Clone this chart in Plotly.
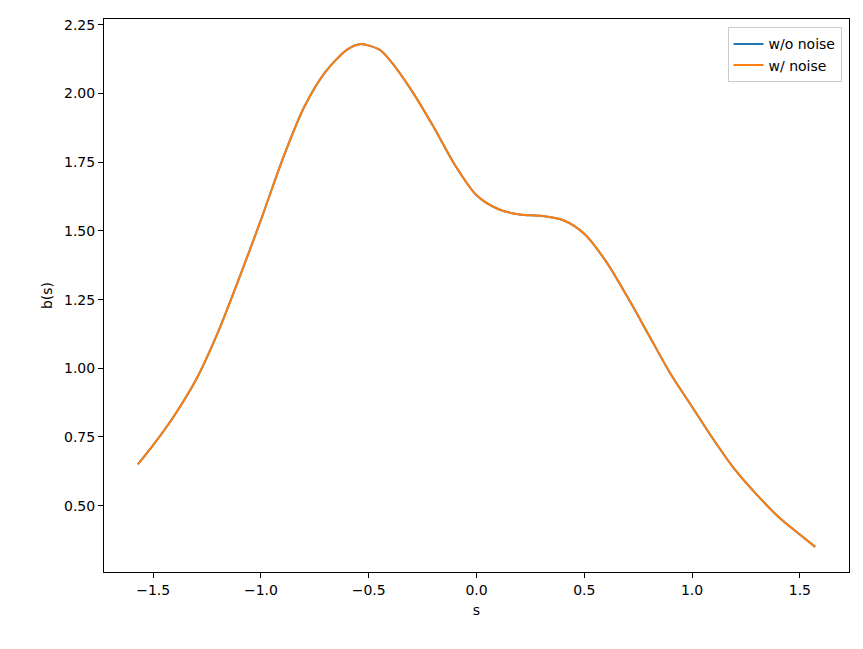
import plotly.graph_objects as go

s = [-1.571, -1.5, -1.4, -1.3, -1.2, -1.1, -1.0, -0.9, -0.8, -0.7, -0.6, -0.54, -0.45, -0.4,
     -0.3, -0.2, -0.1, 0.0, 0.1, 0.2, 0.3, 0.4, 0.5, 0.6, 0.7, 0.8, 0.9, 1.0, 1.1, 1.2,
     1.3, 1.4, 1.5, 1.571]
b_clean = [0.65, 0.72, 0.83, 0.96, 1.13, 1.33, 1.54, 1.76, 1.95, 2.08, 2.16, 2.18, 2.16, 2.12,
           2.01, 1.88, 1.74, 1.63, 1.58, 1.56, 1.555, 1.54, 1.49, 1.39, 1.26, 1.12, 0.98, 0.86,
           0.74, 0.63, 0.54, 0.46, 0.395, 0.35]
b_noise = list(b_clean)

fig = go.Figure()
fig.add_trace(go.Scatter(x=s, y=b_clean, mode="lines", name="w/o noise",
                         line=dict(color="#1f77b4", width=2, shape="spline", smoothing=0.8)))
fig.add_trace(go.Scatter(x=s, y=b_noise, mode="lines", name="w/ noise",
                         line=dict(color="#ff7f0e", width=2, shape="spline", smoothing=0.8)))

axis = dict(showgrid=False, zeroline=False, showline=True, linecolor="black", mirror=True,
            ticks="outside", ticklen=5, tickcolor="black", tickfont=dict(size=14, color="black"))
fig.update_layout(
    width=863, height=649, plot_bgcolor="white", paper_bgcolor="white",
    margin=dict(l=96, r=22, t=9, b=85),
    font=dict(family="DejaVu Sans", color="black"),
    xaxis=dict(axis, range=[-1.728, 1.728], tickvals=[-1.5, -1, -0.5, 0, 0.5, 1, 1.5],
               ticktext=["\u22121.5", "\u22121.0", "\u22120.5", "0.0", "0.5", "1.0", "1.5"],
               title=dict(text="s", font=dict(size=14), standoff=8)),
    yaxis=dict(axis, range=[0.2585, 2.2715], tickvals=[0.5, 0.75, 1, 1.25, 1.5, 1.75, 2, 2.25],
               ticktext=["0.50", "0.75", "1.00", "1.25", "1.50", "1.75", "2.00", "2.25"],
               title=dict(text="b(s)", font=dict(size=14), standoff=8)),
    legend=dict(x=0.99, y=0.985, xanchor="right", yanchor="top", bordercolor="#cccccc",
                borderwidth=1, font=dict(size=14)),
)
fig.write_html("out.html")
